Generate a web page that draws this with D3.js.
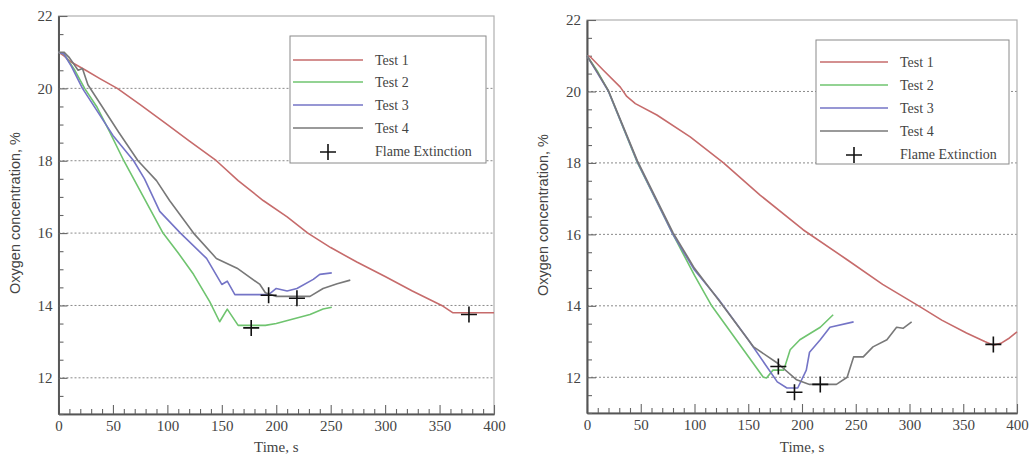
<!DOCTYPE html>
<html>
<head>
<meta charset="utf-8">
<script src="https://cdn.jsdelivr.net/npm/d3@7"></script>
<style>
  html, body { margin: 0; padding: 0; background: #fff; }
  svg { display: block; }
</style>
</head>
<body>
<svg id="chart" width="1032" height="459"></svg>
<script>
// ---- Data: oxygen concentration (%) versus time (s) ----
// Left panel
const timeL1 = [0, 5, 12, 25, 38, 54, 75, 100, 120, 145, 165, 188, 210, 229, 250, 274, 300, 325, 352, 362, 380, 400];
const o2L1   = [21, 20.9, 20.72, 20.5, 20.27, 20, 19.55, 19.0, 18.55, 18, 17.45, 16.9, 16.45, 16, 15.6, 15.2, 14.8, 14.4, 14, 13.8, 13.8, 13.8];
const timeL2 = [0, 5, 15, 24, 35, 47, 60, 78, 96, 110, 124, 139, 148, 155, 165, 180, 190, 200, 212, 231, 243, 251];
const o2L2   = [21, 20.95, 20.5, 20, 19.5, 18.8, 18, 17, 16, 15.45, 14.86, 14.1, 13.55, 13.9, 13.45, 13.45, 13.45, 13.5, 13.6, 13.75, 13.9, 13.95];
const timeL3 = [0, 5, 12, 22, 35, 50, 69, 79, 93, 112, 136, 150, 155, 162, 186, 193, 200, 210, 219, 234, 240, 251];
const o2L3   = [21, 20.95, 20.6, 20, 19.4, 18.7, 18, 17.5, 16.6, 16, 15.3, 14.58, 14.67, 14.3, 14.3, 14.3, 14.47, 14.4, 14.47, 14.72, 14.86, 14.9];
const timeL4 = [0, 5, 10, 18, 22, 27, 40, 55, 73, 90, 102, 124, 145, 164, 185, 190, 200, 231, 243, 256, 268];
const o2L4   = [21, 21, 20.85, 20.5, 20.55, 20.1, 19.5, 18.8, 18, 17.45, 16.9, 16, 15.3, 15.03, 14.58, 14.35, 14.25, 14.25, 14.47, 14.6, 14.7];
const extTimeL = [177, 193, 219, 377];
const extO2L   = [13.38, 14.28, 14.2, 13.75];

// Right panel
const timeR1 = [0, 3, 15, 31, 37, 45, 65, 96, 127, 161, 201, 242, 275, 310, 330, 353, 370, 378, 385, 393, 400];
const o2R1   = [21, 20.97, 20.6, 20.12, 19.86, 19.66, 19.34, 18.73, 18, 17.1, 16.13, 15.29, 14.6, 13.97, 13.6, 13.24, 13.0, 12.9, 12.95, 13.1, 13.27];
const timeR2 = [0, 10, 20, 47, 80, 100, 116, 140, 164, 167, 173, 183, 189, 198, 217, 229];
const o2R2   = [21, 20.55, 20, 18, 16, 14.85, 14, 13, 12.0, 11.98, 12.2, 12.2, 12.77, 13.05, 13.4, 13.75];
const timeR3 = [0, 10, 20, 47, 80, 100, 122, 150, 177, 186, 196, 204, 207, 217, 226, 248];
const o2R3   = [21, 20.5, 20, 18.02, 16, 15.0, 14.2, 13.05, 11.87, 11.7, 11.7, 12.2, 12.7, 13.05, 13.4, 13.55];
const timeR4 = [0, 10, 20, 47, 80, 100, 124, 155, 177, 195, 207, 232, 242, 248, 257, 266, 279, 288, 294, 302];
const o2R4   = [21, 20.52, 20.02, 18.05, 16.05, 15.05, 14.1, 12.85, 12.4, 11.93, 11.8, 11.8, 12.0, 12.57, 12.57, 12.85, 13.05, 13.4, 13.37, 13.55];
const extTimeR = [178, 193, 217, 378];
const extO2R   = [12.3, 11.58, 11.8, 12.92];

// Axis settings and labels
const xTicks = [0, 50, 100, 150, 200, 250, 300, 350, 400];
const yTicks = [12, 14, 16, 18, 20, 22];
const gridLevels = [12, 14, 16, 18, 20];
const seriesNames = ["Test 1", "Test 2", "Test 3", "Test 4"];
const markerName = "Flame Extinction";
const seriesColors = ["#c66b6b", "#6fc46f", "#7474c6", "#787878"];

const svg = d3.select("#chart");
const serif = "'Liberation Serif', 'Times New Roman', serif";
const sans = "'Liberation Sans', Arial, sans-serif";

function zip(ts, vs) { return ts.map((t, i) => [t, vs[i]]); }

function plusPath(cx, cy, r) {
  return `M${cx - r},${cy}H${cx + r}M${cx},${cy - r}V${cy + r}`;
}

function drawPanel(cfg) {
  const x = d3.scaleLinear().domain([0, 400]).range([cfg.x0, cfg.x1]);
  const y = d3.scaleLinear().domain([11, 22]).range([cfg.y1, cfg.y0]);
  const g = svg.append("g");

  // dashed horizontal grid
  g.selectAll("line.grid").data(gridLevels).join("line")
    .attr("x1", cfg.x0).attr("x2", cfg.x1)
    .attr("y1", d => y(d)).attr("y2", d => y(d))
    .attr("stroke", "#8a8a8a").attr("stroke-width", 1)
    .attr("stroke-dasharray", "2,2");

  // outer frame (top/right light)
  g.append("rect")
    .attr("x", cfg.x0).attr("y", cfg.y0)
    .attr("width", cfg.x1 - cfg.x0).attr("height", cfg.y1 - cfg.y0)
    .attr("fill", "none").attr("stroke", "#b0b0b0").attr("stroke-width", 1.2);

  // x axis with inward ticks
  const xMinor = d3.range(0, 401, 10).filter(v => v % 50 !== 0);
  const xAxisMajor = d3.axisBottom(x).tickValues(xTicks).tickSize(-9).tickPadding(6).tickSizeOuter(0);
  const xAxisMinor = d3.axisBottom(x).tickValues(xMinor).tickSize(-5).tickFormat("").tickSizeOuter(0);
  const gxm = g.append("g").attr("transform", `translate(0,${cfg.y1})`).call(xAxisMinor);
  const gx = g.append("g").attr("transform", `translate(0,${cfg.y1})`).call(xAxisMajor);
  [gx, gxm].forEach(a => {
    a.select(".domain").attr("stroke", "#555").attr("stroke-width", 1.6);
    a.selectAll(".tick line").attr("stroke", "#666").attr("stroke-width", 1.1);
  });
  gx.selectAll(".tick text")
    .attr("font-family", serif).attr("font-size", 15).attr("fill", "#444");

  // y axis with inward ticks
  const yMinor = d3.range(11, 22.01, 0.5).filter(v => v % 2 !== 0);
  const yAxisMajor = d3.axisLeft(y).tickValues(yTicks).tickSize(-9).tickPadding(6).tickSizeOuter(0);
  const yAxisMinor = d3.axisLeft(y).tickValues(yMinor).tickSize(-5).tickFormat("").tickSizeOuter(0);
  const gym = g.append("g").attr("transform", `translate(${cfg.x0},0)`).call(yAxisMinor);
  const gy = g.append("g").attr("transform", `translate(${cfg.x0},0)`).call(yAxisMajor);
  [gy, gym].forEach(a => {
    a.select(".domain").attr("stroke", "#555").attr("stroke-width", 1.6);
    a.selectAll(".tick line").attr("stroke", "#666").attr("stroke-width", 1.1);
  });
  gy.selectAll(".tick text")
    .attr("font-family", serif).attr("font-size", 15).attr("fill", "#444");

  // axis titles
  g.append("text")
    .attr("x", (cfg.x0 + cfg.x1) / 2 + cfg.xTitleShift).attr("y", 452)
    .attr("text-anchor", "middle")
    .attr("font-family", serif).attr("font-size", 15).attr("fill", "#444")
    .text("Time, s");
  g.append("text")
    .attr("transform", `translate(${cfg.yTitleX},${cfg.yTitleY}) rotate(-90)`)
    .attr("text-anchor", "middle")
    .attr("font-family", sans).attr("font-size", 14.5).attr("fill", "#444")
    .text("Oxygen concentration, %");

  // series lines
  const line = d3.line().x(d => x(d[0])).y(d => y(d[1]));
  cfg.series.forEach((s, i) => {
    g.append("path").datum(s)
      .attr("d", line)
      .attr("fill", "none")
      .attr("stroke", seriesColors[i])
      .attr("stroke-width", 1.6)
      .attr("stroke-linejoin", "round");
  });

  // flame extinction markers
  cfg.markers.forEach(m => {
    g.append("path")
      .attr("d", plusPath(x(m[0]), y(m[1]), 8))
      .attr("stroke", "#111").attr("stroke-width", 1.6).attr("fill", "none");
  });

  // legend
  const L = cfg.legend;
  const lg = g.append("g");
  lg.append("rect")
    .attr("x", L.x).attr("y", L.y).attr("width", L.w).attr("height", L.h)
    .attr("fill", "#fff").attr("stroke", "#8a8a8a").attr("stroke-width", 1);
  seriesNames.forEach((name, i) => {
    const ry = L.rows[i];
    lg.append("line")
      .attr("x1", L.lineX0).attr("x2", L.lineX1).attr("y1", ry).attr("y2", ry)
      .attr("stroke", seriesColors[i]).attr("stroke-width", 1.6);
    lg.append("text")
      .attr("x", L.textX).attr("y", ry + 5)
      .attr("font-family", serif).attr("font-size", 14).attr("fill", "#444")
      .text(name);
  });
  const my = L.rows[4];
  const mx = (L.lineX0 + L.lineX1) / 2;
  lg.append("path")
    .attr("d", plusPath(mx, my, 8))
    .attr("stroke", "#111").attr("stroke-width", 1.6);
  lg.append("text")
    .attr("x", L.textX).attr("y", my + 4)
    .attr("font-family", serif).attr("font-size", 14).attr("fill", "#444")
    .text(markerName);
}

drawPanel({
  x0: 58.5, x1: 494, y0: 16, y1: 414,
  xTitleShift: 0, yTitleX: 20, yTitleY: 213,
  series: [zip(timeL1, o2L1), zip(timeL2, o2L2), zip(timeL3, o2L3), zip(timeL4, o2L4)],
  markers: zip(extTimeL, extO2L),
  legend: { x: 290, y: 36, w: 196, h: 127, lineX0: 293, lineX1: 363, textX: 375,
            rows: [60, 82, 105, 128, 152] }
});

drawPanel({
  x0: 587, x1: 1017, y0: 20, y1: 413,
  xTitleShift: 0, yTitleX: 548, yTitleY: 215,
  series: [zip(timeR1, o2R1), zip(timeR2, o2R2), zip(timeR3, o2R3), zip(timeR4, o2R4)],
  markers: zip(extTimeR, extO2R),
  legend: { x: 816, y: 40, w: 193, h: 124, lineX0: 820, lineX1: 888, textX: 900,
            rows: [62, 85, 108, 131, 155] }
});
</script>
</body>
</html>
